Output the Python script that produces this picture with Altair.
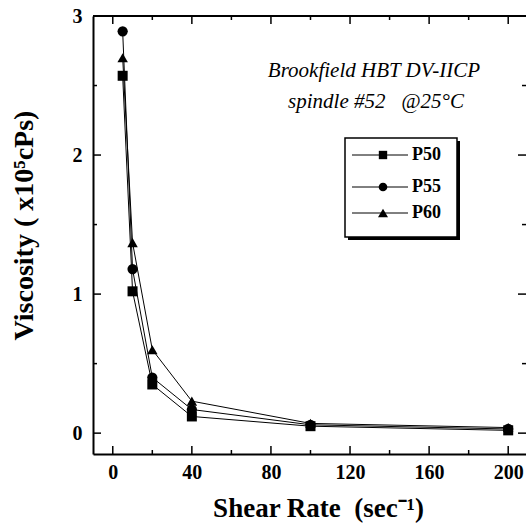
import altair as alt
import pandas as pd

# ---- data ----
shear = [5, 10, 20, 40, 100, 200]
p50 = [2.57, 1.02, 0.35, 0.12, 0.05, 0.02]
p55 = [2.89, 1.18, 0.40, 0.17, 0.06, 0.03]
p60 = [2.70, 1.37, 0.60, 0.23, 0.07, 0.04]
series = ["P50", "P55", "P60"]
shapes = ["square", "circle", "triangle-up"]
marker_sizes = [100, 110, 150]

x_major = [0, 40, 80, 120, 160, 200]
x_minor = [20, 60, 100, 140, 180]
y_major = [0, 1, 2, 3]
y_minor = [0.5, 1.5, 2.5]

rows = []
for name, vals in zip(series, [p50, p55, p60]):
    for xv, yv in zip(shear, vals):
        rows.append({"series": name, "shear": xv, "visc": yv})
df = pd.DataFrame(rows)

W, H = 433, 438
SERIF = "Liberation Serif"

xs = alt.Scale(domain=[-10, 209], nice=False, zero=False)
ys = alt.Scale(domain=[-0.15, 3.0], nice=False, zero=False)

xaxis = alt.Axis(
    values=x_major, ticks=False, grid=False, domain=True, domainColor="black",
    domainWidth=2, labelFont=SERIF, labelFontSize=20, labelFontWeight="bold",
    labelColor="black", labelPadding=8, format="d",
    title="Shear Rate\u00a0\u00a0(sec\u207b\u00b9)", titleFont=SERIF, titleFontSize=27,
    titleFontWeight="bold", titleColor="black", titleX=225, titleY=54,
    titleBaseline="middle", titleAlign="center",
)
yaxis = alt.Axis(
    values=y_major, ticks=False, grid=False, domain=True, domainColor="black",
    domainWidth=2, labelFont=SERIF, labelFontSize=20, labelFontWeight="bold",
    labelColor="black", labelPadding=11, format="d",
    title="Viscosity ( x10\u2075cPs)", titleFont=SERIF, titleFontSize=28,
    titleFontWeight="bold", titleColor="black", titleX=-69, titleY=209,
    titleBaseline="middle", titleAlign="center", titleAngle=-90,
)

X = lambda f: alt.X(f, scale=xs, axis=xaxis)
Y = lambda f: alt.Y(f, scale=ys, axis=yaxis)

lines = alt.Chart(df).mark_line(color="black", strokeWidth=1).encode(
    x=X("shear:Q"), y=Y("visc:Q"), detail="series:N"
)
points = alt.Chart(df).mark_point(filled=True, color="black", opacity=1).encode(
    x=X("shear:Q"), y=Y("visc:Q"),
    shape=alt.Shape("series:N", scale=alt.Scale(domain=series, range=shapes), legend=None),
    size=alt.Size("series:N", scale=alt.Scale(domain=series, range=marker_sizes), legend=None),
)

layers = [lines, points]

# top frame
one = pd.DataFrame({"a": [0]})
layers.append(alt.Chart(one).mark_rule(color="black", strokeWidth=2).encode(
    x=alt.value(0), x2=alt.value(W), y=alt.value(0)))

# inward ticks
def xticks(vals, length):
    d = pd.DataFrame({"v": vals})
    b = alt.Chart(d).mark_rule(color="black", strokeWidth=1.5).encode(
        x=X("v:Q"), y=alt.value(H), y2=alt.value(H - length))
    t = alt.Chart(d).mark_rule(color="black", strokeWidth=1.5).encode(
        x=X("v:Q"), y=alt.value(0), y2=alt.value(length))
    return [b, t]

def yticks(vals, length):
    d = pd.DataFrame({"v": vals})
    l = alt.Chart(d).mark_rule(color="black", strokeWidth=1.5).encode(
        y=Y("v:Q"), x=alt.value(0), x2=alt.value(length))
    r = alt.Chart(d).mark_rule(color="black", strokeWidth=1.5).encode(
        y=Y("v:Q"), x=alt.value(W), x2=alt.value(W - length))
    return [l, r]

layers += xticks(x_major, 8) + xticks(x_minor, 4) + yticks(y_major, 8) + yticks(y_minor, 4)

# annotations
layers.append(alt.Chart(one).mark_text(font=SERIF, fontSize=21, fontStyle="italic",
                                       color="black", align="center", baseline="middle").encode(
    x=alt.value(281), y=alt.value(55), text=alt.value("Brookfield HBT DV-IICP")))
layers.append(alt.Chart(one).mark_text(font=SERIF, fontSize=21, fontStyle="italic",
                                       color="black", align="center", baseline="middle").encode(
    x=alt.value(283), y=alt.value(86), text=alt.value("spindle #52\u00a0\u00a0\u00a0@25\u00b0C")))

# legend box with shadow
layers.append(alt.Chart(one).mark_rect(color="black").encode(
    x=alt.value(255), x2=alt.value(367), y=alt.value(125), y2=alt.value(224)))
layers.append(alt.Chart(one).mark_rect(fill="white", stroke="black", strokeWidth=1.5).encode(
    x=alt.value(252), x2=alt.value(364), y=alt.value(122), y2=alt.value(221)))
leg_y = [139, 171, 197]
leg_sizes = [70, 75, 100]
for name, shp, yy, sz in zip(series, shapes, leg_y, leg_sizes):
    layers.append(alt.Chart(one).mark_rule(color="black", strokeWidth=1).encode(
        x=alt.value(259), x2=alt.value(315), y=alt.value(yy)))
    layers.append(alt.Chart(one).mark_point(filled=True, color="black", opacity=1,
                                            size=sz, shape=shp).encode(
        x=alt.value(290), y=alt.value(yy)))
    layers.append(alt.Chart(one).mark_text(font=SERIF, fontSize=18, fontWeight="bold",
                                           color="black", align="left", baseline="middle").encode(
        x=alt.value(319), y=alt.value(yy), text=alt.value(name)))

chart = alt.layer(*layers).properties(
    width=W, height=H,
    autosize=alt.AutoSizeParams(type="none"),
    padding={"left": 93, "top": 16, "right": 0, "bottom": 73},
    background="white",
).configure_view(stroke=None)

chart.save("out.html", embed_options={"renderer": "svg", "actions": False})
